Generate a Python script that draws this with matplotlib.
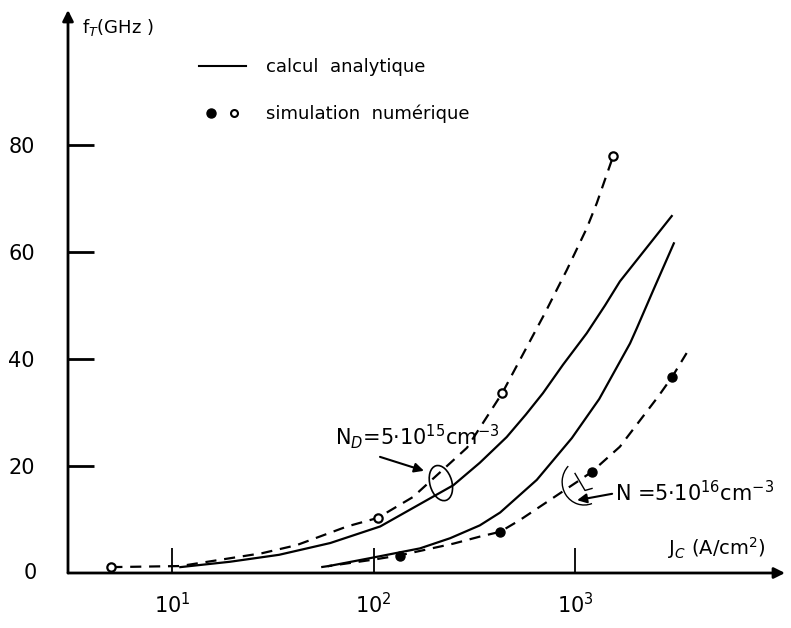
import matplotlib
matplotlib.use("Agg")
import matplotlib.pyplot as plt
from matplotlib.lines import Line2D
from matplotlib.patches import Ellipse, Arc
from matplotlib.legend_handler import HandlerTuple
from matplotlib.transforms import IdentityTransform

# analytic curves (calcul analytique)
jc_calc_15 = [11, 19.4, 34, 61, 108, 249, 337, 458, 570, 693, 871, 1143, 1409, 1671, 3020]
ft_calc_15 = [1.1, 2.1, 3.4, 5.6, 8.7, 16.4, 20.6, 25.4, 29.6, 33.6, 38.9, 44.8, 50.0, 54.5, 66.7]
jc_calc_16 = [60, 100, 170, 240, 337, 425, 646, 964, 1318, 1875, 2024, 2449, 3093]
ft_calc_16 = [1.3, 2.9, 4.6, 6.5, 8.9, 11.3, 17.4, 25.2, 32.5, 42.9, 45.7, 52.9, 61.6]

# numerical simulation (simulation numerique) - dashed guide lines + points
jc_sim_15 = [5, 11, 28, 41.5, 74, 105, 157, 176, 291, 435, 710, 811, 910, 1143, 1282, 1550]
ft_sim_15 = [1.1, 1.3, 3.7, 5.2, 8.7, 10.3, 14.2, 15.9, 23.4, 33.6, 48.6, 52.9, 56.6, 64.4, 69.1, 78.0]
jc_pts_15 = [5, 105, 435, 1550]
ft_pts_15 = [1.1, 10.3, 33.6, 78.0]

jc_sim_16 = [55, 100, 135, 250, 337, 425, 533, 1059, 1211, 1670, 2590, 3040, 3580]
ft_sim_16 = [1.1, 2.5, 3.3, 5.5, 6.8, 7.7, 9.9, 17.4, 18.9, 23.6, 33.0, 36.7, 41.1]
jc_pts_16 = [135, 425, 1211, 3040]
ft_pts_16 = [3.2, 7.7, 18.9, 36.7]

yticks = [20, 40, 60, 80]
xticks = [10, 100, 1000]
xticklabels = [r"$10^{1}$", r"$10^{2}$", r"$10^{3}$"]

fig = plt.figure(figsize=(7.91, 6.28), dpi=100)
ax = fig.add_axes([68 / 791, 1 - 573 / 628, 717 / 791, 563 / 628])
ax.set_xscale("log")
ax.set_xlim(10 ** 0.484, 10 ** 4.042)
ax.set_ylim(0, 105.2)

lw = 1.6
dash = (0, (5, 3.5))
ax.plot(jc_calc_15, ft_calc_15, color="k", lw=lw)
ax.plot(jc_calc_16, ft_calc_16, color="k", lw=lw)
ax.plot(jc_sim_15, ft_sim_15, color="k", lw=lw, ls=dash)
ax.plot(jc_sim_16, ft_sim_16, color="k", lw=lw, ls=dash)
ax.plot(jc_pts_15, ft_pts_15, "o", ms=6, mfc="white", mec="k", mew=1.6, zorder=5)
ax.plot(jc_pts_16, ft_pts_16, "o", ms=6.5, color="k", zorder=5)

# axes drawn as arrows
for s in ax.spines.values():
    s.set_visible(False)
ax.annotate("", xy=(1, 0), xytext=(0, 0), xycoords="axes fraction",
            arrowprops=dict(arrowstyle="-|>", lw=2, color="k", mutation_scale=16,
                            shrinkA=0, shrinkB=0))
ax.annotate("", xy=(0, 1), xytext=(0, 0), xycoords="axes fraction",
            arrowprops=dict(arrowstyle="-|>", lw=2, color="k", mutation_scale=16,
                            shrinkA=0, shrinkB=0))

ax.set_yticks(yticks)
ax.set_yticklabels([str(v) for v in yticks])
ax.set_xticks(xticks)
ax.set_xticklabels(xticklabels)
ax.minorticks_off()
ax.tick_params(axis="y", direction="in", length=19, width=2, labelsize=15, pad=24)
ax.tick_params(axis="x", direction="in", length=18, width=1.3, labelsize=15, pad=14)
# the "0" of the y axis has no tick mark
ax.text(10 ** (0.484 - 31 / 201.5), 0, "0", fontsize=15, ha="right", va="center",
        clip_on=False)

ax.text(3.57, 101.9, r"f$_T$(GHz )", fontsize=13, ha="left", va="center")
ax.text(2885, 4.7, r"J$_C$ (A/cm$^2$)", fontsize=14, ha="left", va="center")

# legend
h_line = Line2D([], [], color="k", lw=1.5)
h_full = Line2D([], [], ls="", marker="o", ms=6.5, color="k")
h_open = Line2D([], [], ls="", marker="o", ms=5, mfc="white", mec="k", mew=1.5)
ax.legend([h_line, (h_full, h_open)], ["calcul  analytique", "simulation  numérique"],
          handler_map={tuple: HandlerTuple(ndivide=None, pad=0)},
          loc="upper left", bbox_to_anchor=(199 / 791, 1 - 58 / 628),
          bbox_transform=fig.transFigure, frameon=False, fontsize=13,
          handlelength=2.6, handletextpad=1.1, labelspacing=1.6,
          borderpad=0, borderaxespad=0)

# N_D annotation
ax.text(64.4, 25.4, r"N$_D$=5·10$^{15}$cm$^{-3}$", fontsize=15, ha="left", va="center")
ax.annotate("", xy=(178, 19.1), xytext=(107.7, 21.7),
            arrowprops=dict(arrowstyle="-|>", lw=1.5, color="k", mutation_scale=14,
                            shrinkA=0, shrinkB=0))
cx, cy = ax.transData.transform((216, 16.8))
fig.add_artist(Ellipse((cx, cy), 22, 36, angle=16, fill=False, lw=1.2, ec="k",
                       transform=IdentityTransform()))

# N annotation
ax.text(1581, 15.1, r"N =5·10$^{16}$cm$^{-3}$", fontsize=15, ha="left", va="center")
ax.annotate("", xy=(1024, 13.6), xytext=(1528, 14.8),
            arrowprops=dict(arrowstyle="-|>", lw=1.5, color="k", mutation_scale=14,
                            shrinkA=0, shrinkB=0))
bx, by = ax.transData.transform((1110, 17.0))
fig.add_artist(Arc((bx, by), 44, 46, theta1=135, theta2=290, lw=1.0, color="k",
                   transform=IdentityTransform()))
lx, ly = ax.transData.transform((1000, 18.6))
fig.add_artist(Line2D([lx, lx + 10, lx + 17], [ly, ly - 17, ly - 15], lw=1.0, color="k",
                      transform=IdentityTransform()))

fig.savefig("out.png", dpi=100)
